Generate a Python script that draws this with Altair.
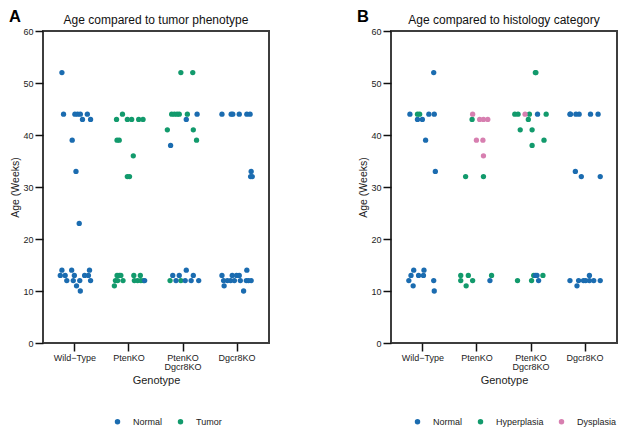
import altair as alt
import pandas as pd

GENOTYPES = ["Wild−Type", "PtenKO", "PtenKO\nDgcr8KO", "Dgcr8KO"]

# ---------- Panel A: tumor phenotype ----------
A_STATUS = ["Normal", "Tumor"]
A_COLORS = ["#1b6cb0", "#129a6c"]

A_WT_NORMAL_AGE = [52, 44, 44, 44, 44, 44, 43, 43, 39, 33, 23, 14, 13, 13, 12, 14, 13, 12, 11, 12, 10, 13, 14, 13, 12]
A_WT_NORMAL_JIT = [-0.24, -0.21, 0.0, 0.05, 0.10, 0.23, 0.14, 0.29, -0.05, 0.02, 0.08, -0.24, -0.27, -0.18, -0.15, -0.06, -0.01, -0.03, 0.03, 0.09, 0.10, 0.18, 0.27, 0.25, 0.29]
A_PTEN_TUMOR_AGE = [43, 44, 43, 43, 43, 43, 39, 39, 36, 32, 32, 11, 12, 13, 13, 13, 12, 12, 13, 12, 12, 13, 12, 12]
A_PTEN_TUMOR_JIT = [-0.23, -0.12, -0.03, 0.05, 0.18, 0.26, -0.22, -0.18, 0.08, -0.03, 0.01, -0.27, -0.25, -0.22, -0.18, -0.15, -0.21, -0.11, 0.09, 0.10, 0.16, 0.21, 0.22, 0.27]
A_PTEN_NORMAL_AGE = [12]
A_PTEN_NORMAL_JIT = [0.29]
A_PD_TUMOR_AGE = [52, 52, 44, 44, 44, 44, 44, 41, 41, 39, 12, 12]
A_PD_TUMOR_JIT = [-0.04, 0.18, -0.21, -0.16, -0.11, -0.07, 0.08, -0.29, 0.19, 0.25, -0.24, -0.04]
A_PD_NORMAL_AGE = [38, 43, 44, 13, 13, 14, 12, 12, 13, 12, 12]
A_PD_NORMAL_JIT = [-0.23, 0.06, 0.26, -0.19, -0.07, 0.06, 0.04, 0.15, 0.19, 0.29, -0.13]
A_DG_NORMAL_AGE = [44, 44, 44, 44, 44, 44, 33, 32, 32, 13, 11, 12, 12, 12, 13, 12, 13, 13, 12, 10, 14, 12, 12, 12]
A_DG_NORMAL_JIT = [-0.28, -0.11, -0.08, 0.04, 0.18, 0.24, 0.26, 0.25, 0.28, -0.28, -0.24, -0.25, -0.18, -0.12, -0.09, -0.05, -0.01, 0.04, 0.06, 0.12, 0.18, 0.17, 0.21, 0.26]

# ---------- Panel B: histology category ----------
B_STATUS = ["Normal", "Hyperplasia", "Dysplasia"]
B_COLORS = ["#1b6cb0", "#129a6c", "#d77fb0"]

B_WT_NORMAL_AGE = [44, 43, 43, 44, 44, 52, 39, 33, 12, 13, 14, 11, 13, 13, 14, 12, 10]
B_WT_NORMAL_JIT = [-0.24, -0.10, -0.01, 0.11, 0.21, 0.20, 0.05, 0.23, -0.26, -0.22, -0.17, -0.18, -0.08, 0.01, 0.02, 0.20, 0.21]
B_WT_HYPER_AGE = [44, 44]
B_WT_HYPER_JIT = [-0.10, -0.06]
B_PTEN_HYPER_AGE = [43, 32, 32, 13, 12, 13, 11, 12, 13]
B_PTEN_HYPER_JIT = [-0.09, -0.21, 0.12, -0.30, -0.30, -0.16, -0.20, -0.08, 0.27]
B_PTEN_DYS_AGE = [44, 43, 43, 43, 39, 39, 36]
B_PTEN_DYS_JIT = [-0.08, 0.05, 0.12, 0.20, -0.01, 0.11, 0.12]
B_PTEN_NORMAL_AGE = [12]
B_PTEN_NORMAL_JIT = [0.24]
B_PD_HYPER_AGE = [44, 44, 44, 44, 43, 41, 41, 39, 38, 52, 52, 12, 12, 13, 13]
B_PD_HYPER_JIT = [-0.30, -0.24, -0.03, 0.28, -0.05, -0.20, 0.02, 0.24, 0.02, 0.08, 0.09, -0.25, 0.01, 0.05, 0.22]
B_PD_DYS_AGE = [44]
B_PD_DYS_JIT = [-0.11]
B_PD_NORMAL_AGE = [44, 13, 13, 12]
B_PD_NORMAL_JIT = [0.12, 0.08, 0.11, 0.14]
B_DG_NORMAL_AGE = [44, 44, 44, 44, 44, 44, 33, 32, 32, 12, 11, 12, 12, 12, 13, 12, 12, 12]
B_DG_NORMAL_JIT = [-0.28, -0.27, -0.17, -0.11, 0.10, 0.24, -0.18, -0.07, 0.28, -0.28, -0.15, -0.12, -0.03, 0.01, 0.08, 0.16, 0.28, 0.08]

TITLES = ["Age compared to tumor phenotype", "Age compared to histology category"]
LETTERS = ["A", "B"]


def frame(groups):
    rows = []
    for g, status, ages, jits in groups:
        for a, j in zip(ages, jits):
            rows.append({"genotype": GENOTYPES[g], "status": status, "age": a, "jitter": j})
    return pd.DataFrame(rows)


df_a = frame([
    (0, "Normal", A_WT_NORMAL_AGE, A_WT_NORMAL_JIT),
    (1, "Tumor", A_PTEN_TUMOR_AGE, A_PTEN_TUMOR_JIT),
    (1, "Normal", A_PTEN_NORMAL_AGE, A_PTEN_NORMAL_JIT),
    (2, "Tumor", A_PD_TUMOR_AGE, A_PD_TUMOR_JIT),
    (2, "Normal", A_PD_NORMAL_AGE, A_PD_NORMAL_JIT),
    (3, "Normal", A_DG_NORMAL_AGE, A_DG_NORMAL_JIT),
])

df_b = frame([
    (0, "Normal", B_WT_NORMAL_AGE, B_WT_NORMAL_JIT),
    (0, "Hyperplasia", B_WT_HYPER_AGE, B_WT_HYPER_JIT),
    (1, "Hyperplasia", B_PTEN_HYPER_AGE, B_PTEN_HYPER_JIT),
    (1, "Dysplasia", B_PTEN_DYS_AGE, B_PTEN_DYS_JIT),
    (1, "Normal", B_PTEN_NORMAL_AGE, B_PTEN_NORMAL_JIT),
    (2, "Hyperplasia", B_PD_HYPER_AGE, B_PD_HYPER_JIT),
    (2, "Dysplasia", B_PD_DYS_AGE, B_PD_DYS_JIT),
    (2, "Normal", B_PD_NORMAL_AGE, B_PD_NORMAL_JIT),
    (3, "Normal", B_DG_NORMAL_AGE, B_DG_NORMAL_JIT),
])

FONT = "Liberation Sans"
W = 226
H = 312


def panel(df, status, colors, title, letter, legend_x):
    points = alt.Chart(df).mark_circle(size=28, opacity=1).encode(
        x=alt.X(
            "genotype:N",
            sort=GENOTYPES,
            scale=alt.Scale(paddingInner=0, paddingOuter=0.09),
            axis=alt.Axis(
                title="Genotype",
                labelAngle=0,
                labelExpr="split(datum.label, '\\n')",
                labelFontSize=9,
                labelLineHeight=9,
                labelPadding=2,
                labelColor="#222222",
                titleFontSize=11,
                titleFontWeight="normal",
                titleColor="#222222",
                titlePadding=3,
                tickSize=8,
                tickWidth=1.5,
                tickColor="#111111",
                domain=False,
                grid=False,
            ),
        ),
        xOffset=alt.XOffset("jitter:Q", scale=alt.Scale(domain=[-0.5, 0.5])),
        y=alt.Y(
            "age:Q",
            scale=alt.Scale(domain=[0, 60], nice=False),
            axis=alt.Axis(
                title="Age (Weeks)",
                values=[0, 10, 20, 30, 40, 50, 60],
                labelFontSize=9,
                labelPadding=2,
                labelColor="#222222",
                titleFontSize=10.5,
                titleFontWeight="normal",
                titleColor="#222222",
                titlePadding=2,
                tickSize=8,
                tickWidth=1.5,
                tickColor="#111111",
                domain=False,
                grid=False,
            ),
        ),
        color=alt.Color(
            "status:N",
            scale=alt.Scale(domain=status, range=colors),
            legend=alt.Legend(
                title=None,
                orient="none",
                direction="horizontal",
                legendX=legend_x,
                legendY=386,
                symbolType="circle",
                symbolSize=30,
                labelFontSize=9,
                labelOffset=11,
                columnPadding=13,
                labelColor="#222222",
                padding=0,
            ),
        ),
    )
    heading = alt.Chart(pd.DataFrame({"t": [title]})).mark_text(
        fontSize=12, align="center", baseline="middle", font=FONT, color="#111111"
    ).encode(text="t:N", x=alt.value(W / 2), y=alt.value(-11))
    label = alt.Chart(pd.DataFrame({"t": [letter]})).mark_text(
        fontSize=16.5, fontWeight="bold", align="left", baseline="top", font=FONT, color="#000000"
    ).encode(text="t:N", x=alt.value(-34), y=alt.value(-22))
    return alt.layer(points, heading, label).properties(width=W, height=H)


chart_a = panel(df_a, A_STATUS, A_COLORS, TITLES[0], LETTERS[0], 70)
chart_b = panel(df_b, B_STATUS, B_COLORS, TITLES[1], LETTERS[1], 22)

chart = (
    alt.hconcat(chart_a, chart_b, spacing=86)
    .resolve_scale(color="independent")
    .resolve_legend(color="independent")
    .properties(padding=0)
    .configure(font=FONT)
    .configure_view(stroke="#3d3d3d", strokeWidth=2)
    .configure_axis(labelFont=FONT, titleFont=FONT)
)

chart.save("out.html", embed_options={"renderer": "svg", "actions": False})
